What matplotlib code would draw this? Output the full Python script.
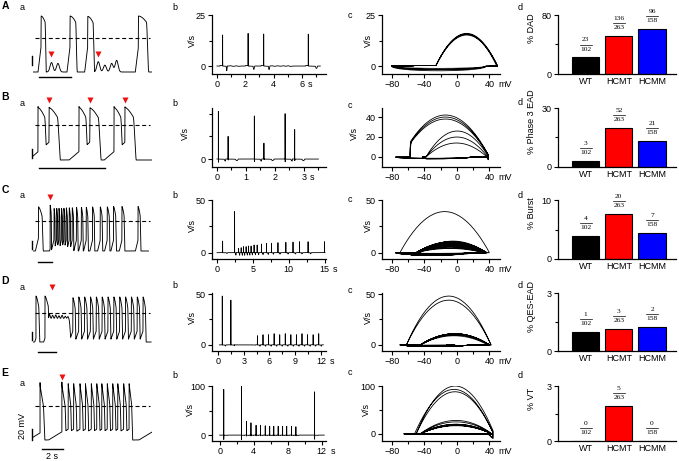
import numpy as np
import matplotlib
matplotlib.use('Agg')
import matplotlib.pyplot as plt
from matplotlib.transforms import offset_copy

plt.rcParams['font.family'] = ['Liberation Sans', 'DejaVu Sans']
FS = 6.5
W, H = 679, 461

# ---------------- bar panels (d): cells with the event / cells recorded
groups = ['WT', 'HCMT', 'HCMM']
bar_colors = ['#000000', '#ff0000', '#0000ff']
cells_total = [102, 263, 158]
dad_cells = [23, 136, 96]
ead3_cells = [3, 52, 21]
burst_cells = [4, 20, 7]
qes_cells = [1, 3, 2]
vt_cells = [0, 5, 0]

# ---------------- action potentials
# upstroke time (s), max dV/dt (V/s), peak (mV), duration (s), take-off potential (mV)
a_t = [0.4, 2.2, 3.3, 6.45]
a_dvdt = [15.2, 16.0, 15.7, 15.6]
a_peak = [50, 50, 49, 50]
a_apd = [0.25, 0.35, 0.33, 0.5]
a_foot = [-26, -26, -26, -26]
a_dad_t = [1.05, 1.45, 3.96, 4.37, 4.79, 5.1]
a_dad_mv = [22, 20, 24, 16, 20, 27]
a_mark_t = [1.05, 3.96]

b_t = [0.05, 0.385, 1.29, 1.62, 2.35, 2.68]
b_dvdt = [42, 20, 38, 14, 40, 26]
b_peak = [40, 38, 40, 37, 40, 39]
b_apd = [0.2, 0.25, 0.2, 0.25, 0.2, 0.25]
b_foot = [-68, -38, -68, -38, -68, -38]
b_mark_t = [0.385, 1.62, 2.68]

c_t = [0.78, 2.45, 3.0, 3.37, 3.7, 4.06, 4.4, 4.75, 5.17, 5.6, 6.2, 6.9, 7.6,
       8.5, 9.6, 10.6, 11.5, 12.7, 15.0]
c_dvdt = [11, 39, 4.0, 4.7, 5.7, 5.7, 6.3, 6.3, 7.3, 7.3, 8.2, 8.9, 8.9,
          9.5, 9.8, 10.0, 10.4, 10.4, 10.4]
c_peak = [36, 40, 33, 33, 33, 33, 33, 34, 34, 34, 35, 35, 35, 36, 36, 36, 37, 37, 37]
c_apd = [0.5, 0.15, 0.13, 0.13, 0.13, 0.14, 0.14, 0.15, 0.16, 0.17, 0.18, 0.2, 0.22,
         0.24, 0.26, 0.28, 0.3, 0.3, 0.3]
c_foot = [-45, -70, -50, -50, -50, -50, -50, -50, -50, -50, -50, -50, -50,
          -50, -50, -50, -50, -50, -50]
c_mark_t = [2.45]

d_t = [0.5, 1.5, 4.6, 5.25, 5.9, 6.55, 7.2, 7.85, 8.5, 9.15, 9.8, 10.45, 11.1, 11.75, 12.4]
d_dvdt = [48, 44, 9, 10, 10, 11, 10, 11, 10, 10, 11, 10, 10, 11, 10]
d_peak = [42, 42, 38, 40, 40, 40, 40, 40, 40, 40, 40, 40, 40, 40, 40]
d_apd = [0.3, 0.35, 0.25, 0.25, 0.25, 0.25, 0.25, 0.25, 0.25, 0.25, 0.25, 0.25, 0.25, 0.25, 0.25]
d_foot = [-62, -62, -45, -45, -45, -45, -45, -45, -45, -45, -45, -45, -45, -45, -45]
d_plateau = (1.8, 4.3, -14)          # start (s), end (s), level (mV)
d_osc_t = [2.0, 2.35, 2.7, 3.05, 3.4, 3.75, 4.05]
d_osc_mv = [12, 9, 10, 8, 9, 7, 6]
d_mark_t = [2.25]

e_t = [0.48, 2.56, 3.16, 3.68, 4.28, 4.8, 5.36, 5.88, 6.36, 6.88, 7.4, 7.88, 8.44, 8.96, 11.16]
e_dvdt = [93, 100, 28, 25, 20, 20, 19, 18, 18, 18, 18, 18, 18, 17, 88]
e_peak = [45, 46, 43, 43, 43, 43, 43, 43, 43, 43, 43, 43, 43, 43, 45]
e_apd = [0.3, 0.28, 0.22, 0.22, 0.22, 0.22, 0.22, 0.22, 0.22, 0.22, 0.22, 0.22, 0.22, 0.22, 0.3]
e_foot = [-52, -50, -45, -45, -45, -45, -45, -45, -45, -45, -45, -45, -45, -45, -50]
e_mark_t = [2.56]


def build_trace(t_lo, t_hi, ap_t, ap_dvdt, ap_peak, ap_apd, ap_foot, p,
                bump_t=(), bump_mv=(), plateau=None):
    taus = [(vp - vf) / (4.0 * d) / 1000.0 for vp, vf, d in zip(ap_peak, ap_foot, ap_dvdt)]
    grid = [np.arange(t_lo, t_hi, 0.002)]
    for tc, tau in zip(ap_t, taus):
        grid.append(np.arange(tc - 8 * tau - 0.002, tc + 8 * tau + 0.005, tau / 12))
    t = np.unique(np.concatenate(grid))
    t = t[(t >= t_lo) & (t <= t_hi)]

    v = np.full(t.shape, float(p['mdp']))
    if plateau is not None:
        t0, t1, lev = plateau
        edge = 1 / (1 + np.exp(-np.clip((t - t0) / 0.04, -60, 60)))
        edge = edge / (1 + np.exp(-np.clip((t1 - t) / 0.04, -60, 60)))
        v = np.maximum(v, p['mdp'] + (lev - p['mdp']) * edge)
    dmax = max(ap_dvdt)
    for tc, d, vp, apd, vf, tau in zip(ap_t, ap_dvdt, ap_peak, ap_apd, ap_foot, taus):
        z = np.clip((t - tc) / tau, -60, 60)
        up = vf + (vp - vf) / (1 + np.exp(-z))
        t_up = tc - 6 * tau
        up_start = vf + (vp - vf) / (1 + np.exp(6.0))
        up = np.where(t < t_up, up_start - p['slope'] * (t_up - t), up)
        x = np.clip((t - tc) / apd, 0, None)
        u = np.clip((x - 1) / p['rep'], 0, 1)
        plat = vp - p['drop'] * np.clip(x, 0, 1) ** p['expo']
        down = plat - (vp - p['drop'] - p['mdp']) * u * u * (3 - 2 * u)
        tn = np.clip(t - tc - 4 * tau, 0, None)
        down = down - p['notch'] * d / dmax * (1 - np.exp(-tn / 0.0006))
        v = np.maximum(v, np.minimum(up, down))
    for bt, bm in zip(bump_t, bump_mv):
        v = v + bm * np.exp(-0.5 * ((t - bt) / p['sig']) ** 2)
    dv = np.gradient(v, t) / 1000.0
    return t, v, dv


rows = [
    dict(name='A', ap=(a_t, a_dvdt, a_peak, a_apd, a_foot), bumps=(a_dad_t, a_dad_mv), plateau=None,
         marks=a_mark_t, p=dict(mdp=-80, slope=300, drop=14, expo=1.8, rep=0.3, notch=0, sig=0.09),
         t_range=(-0.1, 7.3), a_xlim=(-0.1, 7.3), b_end=7.3, v_top=50, y_peak=16, y_base=72,
         mark_y=54, vbar=65, hbar=(39, 77), box=(15, 74),
         b_xlim=(-0.35, 7.7), b_xt=[0, 2, 4, 6], b_xm=[1, 3, 5, 7],
         b_ylim=(-3.9, 25), b_yt=[0, 25], b_ym=[12.5],
         c_ylim=(-3.9, 25), c_yt=[0, 25], c_ym=[12.5],
         cells=dad_cells, d_top=80, d_label='% DAD', lab_x=(197, 373),
         letters=(6, 8, 8, 15, 8)),
    dict(name='B', ap=(b_t, b_dvdt, b_peak, b_apd, b_foot), bumps=((), ()), plateau=None,
         marks=b_mark_t, p=dict(mdp=-75, slope=60, drop=20, expo=1.5, rep=0.4, notch=3, sig=0.08),
         t_range=(-0.1, 3.5), a_xlim=(-0.1, 3.5), b_end=3.5, v_top=40, y_peak=106, y_base=160,
         mark_y=100, vbar=158, hbar=(39, 168), box=(108, 167),
         b_xlim=(-0.17, 3.76), b_xt=[0, 1, 2, 3], b_xm=[0.5, 1.5, 2.5, 3.5],
         b_ylim=(-7, 45), b_yt=[0], b_ym=[20, 40],
         c_ylim=(-10, 49), c_yt=[0, 20, 40], c_ym=[],
         cells=ead3_cells, d_top=30, d_label='% Phase 3 EAD', lab_x=(190, 359),
         letters=(97, 104, 103, 105, 102)),
    dict(name='C', ap=(c_t, c_dvdt, c_peak, c_apd, c_foot), bumps=((), ()), plateau=None,
         marks=c_mark_t, p=dict(mdp=-75, slope=70, drop=22, expo=1.5, rep=0.4, notch=0, sig=0.08),
         t_range=(0.0, 16.5), a_xlim=(0.0, 17.0), b_end=15.06, v_top=38, y_peak=206, y_base=251,
         mark_y=197, vbar=249, hbar=(38, 262), box=(200, 259),
         b_xlim=(-0.7, 15.2), b_xt=[0, 5, 10, 15], b_xm=[2.5, 7.5, 12.5],
         b_ylim=(-6, 50), b_yt=[0, 50], b_ym=[25],
         c_ylim=(-6, 50), c_yt=[0, 50], c_ym=[25],
         cells=burst_cells, d_top=10, d_label='% Burst', lab_x=(197, 373),
         letters=(190, 196, 195, 199, 195)),
    dict(name='D', ap=(d_t, d_dvdt, d_peak, d_apd, d_foot), bumps=(d_osc_t, d_osc_mv), plateau=d_plateau,
         marks=d_mark_t, p=dict(mdp=-70, slope=60, drop=25, expo=1.5, rep=0.4, notch=0, sig=0.08),
         t_range=(0.17, 13.3), a_xlim=(0.17, 13.4), b_end=12.3, v_top=42, y_peak=296, y_base=342,
         mark_y=287, vbar=340, hbar=(38, 352), box=(293, 351),
         b_xlim=(-0.7, 12.6), b_xt=[0, 3, 6, 9, 12], b_xm=[1.5, 4.5, 7.5, 10.5],
         b_ylim=(-6, 51), b_yt=[0, 50], b_ym=[25],
         c_ylim=(-6, 51), c_yt=[0, 50], c_ym=[25],
         cells=qes_cells, d_top=3, d_label='% QES-EAD', lab_x=(197, 373),
         letters=(281, 287, 286, 290, 285)),
    dict(name='E', ap=(e_t, e_dvdt, e_peak, e_apd, e_foot), bumps=((), ()), plateau=None,
         marks=e_mark_t, p=dict(mdp=-65, slope=12, drop=35, expo=1.0, rep=0.6, notch=7, sig=0.08),
         t_range=(-0.19, 12.3), a_xlim=(-0.19, 11.14), b_end=12.3, v_top=45, y_peak=382, y_base=440,
         mark_y=377, vbar=440, hbar=(42, 449), box=(386, 441),
         b_xlim=(-0.9, 12.5), b_xt=[0, 4, 8, 12], b_xm=[2, 6, 10],
         b_ylim=(-12, 100), b_yt=[0, 100], b_ym=[50],
         c_ylim=(-15, 100), c_yt=[0, 100], c_ym=[50],
         cells=vt_cells, d_top=3, d_label='% VT', lab_x=(195, 371),
         letters=(373, 383, 375, 372, 375)),
]

fig = plt.figure(figsize=(W / 100, H / 100), dpi=100)


def px_axes(x0, y0, x1, y1):
    return fig.add_axes([x0 / W, 1 - y1 / H, (x1 - x0) / W, (y1 - y0) / H])


def ftext(px, py, s, **kw):
    fig.text(px / W, 1 - py / H, s, **kw)


def style(ax):
    for s in ('top', 'right'):
        ax.spines[s].set_visible(False)
    for s in ('left', 'bottom'):
        ax.spines[s].set_linewidth(0.9)
    ax.tick_params(which='both', direction='out', width=0.8, labelsize=FS, pad=1.5)
    ax.tick_params(which='major', length=3)
    ax.tick_params(which='minor', length=2.2)


def unit_label(ax, last, unit):
    lab = str(last)
    dx = len(lab) * 0.556 * FS / 2 + 0.4 * FS
    ax.annotate(unit, xy=(last, 0), xycoords=ax.get_xaxis_transform(),
                xytext=(dx, -4.5), textcoords='offset points', ha='left', va='top', fontsize=FS)


AX0, AX1 = 33, 152
for row in rows:
    t, v, dv = build_trace(row['t_range'][0], row['t_range'][1], *row['ap'], row['p'],
                           bump_t=row['bumps'][0], bump_mv=row['bumps'][1], plateau=row['plateau'])
    mdp, vtop = row['p']['mdp'], row['v_top']
    yp, yb = row['y_peak'], row['y_base']
    k = (yb - yp) / (vtop - mdp)
    xl0, xl1 = row['a_xlim']

    def to_t(px):
        return xl0 + (px - AX0) / (AX1 - AX0) * (xl1 - xl0)

    def to_v(py):
        return vtop - (py - yp) / k

    # ---- a: membrane potential
    ax = px_axes(AX0, yp - 8, AX1, yb + 14)
    ax.set_xlim(xl0, xl1)
    ax.set_ylim(mdp - 14 / k, vtop + 8 / k)
    ax.axis('off')
    ax.plot(t, v, color='k', lw=0.65)
    ax.axhline(0, xmin=2 / 119, xmax=117 / 119, color='k', lw=0.8, ls=(0, (3.6, 2.4)))
    mt = row['marks']
    ax.plot(mt, [to_v(row['mark_y'])] * len(mt), 'v', color='#ee1111', ms=4.2, mec='none', clip_on=False)
    xv = to_t(32)
    ax.plot([xv, xv], [to_v(row['vbar']), to_v(row['vbar']) + 20], color='k', lw=1.0, clip_on=False)
    hx = to_t(row['hbar'][0])
    ax.plot([hx, hx + 2], [to_v(row['hbar'][1])] * 2, color='k', lw=1.0, clip_on=False)

    top, bot = row['box']
    m = (t >= 0) & (t <= row['b_end'])

    # ---- b: dV/dt against time
    ax = px_axes(212, top, 326, bot)
    style(ax)
    ax.plot(t[m], dv[m], color='k', lw=0.6)
    ax.set_xlim(row['b_xlim'])
    ax.set_ylim(row['b_ylim'])
    ax.set_xticks(row['b_xt'])
    ax.set_xticks(row['b_xm'], minor=True)
    ax.set_yticks(row['b_yt'])
    ax.set_yticks(row['b_ym'], minor=True)
    unit_label(ax, row['b_xt'][-1], 's')
    ax.set_ylabel('V/s', fontsize=FS)
    ax.yaxis.set_label_coords((row['lab_x'][0] - 212) / 114, 0.57)

    # ---- c: phase plot
    ax = px_axes(382, top, 500, bot)
    style(ax)
    ax.plot(v[m], dv[m], color='k', lw=0.6)
    ax.set_xlim(-92, 53)
    ax.set_ylim(row['c_ylim'])
    ax.set_xticks([-80, -40, 0, 40])
    ax.set_xticks([-60, -20, 20], minor=True)
    ax.set_yticks(row['c_yt'])
    ax.set_yticks(row['c_ym'], minor=True)
    unit_label(ax, 40, 'mV')
    ax.set_ylabel('V/s', fontsize=FS)
    ax.yaxis.set_label_coords((row['lab_x'][1] - 382) / 118, 0.57)

    # ---- d: incidence bars
    ax = px_axes(558, top, 676, bot)
    style(ax)
    vals = [100.0 * n / N for n, N in zip(row['cells'], cells_total)]
    xs = np.arange(len(groups))
    ax.bar(xs, vals, width=0.82, color=bar_colors, edgecolor='k', linewidth=0.8)
    ax.set_xlim(-0.83, 2.72)
    ax.set_ylim(0, row['d_top'])
    ax.set_yticks([0, row['d_top']])
    ax.set_yticks([row['d_top'] / 2], minor=True)
    ax.set_xticks(xs)
    ax.set_xticklabels(groups)
    ax.tick_params(axis='x', length=0, pad=2.5)
    ax.set_ylabel(row['d_label'], fontsize=FS)
    ax.yaxis.set_label_coords(-0.186, 0.77)
    line_tr = offset_copy(ax.transData, fig=fig, x=0, y=9.2, units='points')
    for xi, val, n, N in zip(xs, vals, row['cells'], cells_total):
        ax.annotate(str(N), xy=(xi, val), xytext=(0, 6.0), textcoords='offset points',
                    ha='center', va='center', family='Liberation Serif', fontsize=5.4)
        ax.annotate(str(n), xy=(xi, val), xytext=(0, 12.6), textcoords='offset points',
                    ha='center', va='center', family='Liberation Serif', fontsize=5.4)
        ax.plot([xi - 0.18, xi + 0.18], [val, val], transform=line_tr, color='k', lw=0.5, clip_on=False)

    # ---- panel letters
    ly = row['letters']
    ftext(5, ly[0], row['name'], fontsize=7.5, fontweight='bold', ha='center', va='center')
    ftext(22, ly[1], 'a', fontsize=FS, ha='center', va='center')
    ftext(175, ly[2], 'b', fontsize=FS, ha='center', va='center')
    ftext(350, ly[3], 'c', fontsize=FS, ha='center', va='center')
    ftext(520, ly[4], 'd', fontsize=FS, ha='center', va='center')

# scale-bar labels of row E
ftext(22, 426, '20 mV', fontsize=FS, rotation=90, ha='center', va='center')
ftext(52, 456, '2 s', fontsize=FS, ha='center', va='center')

fig.savefig('out.png', dpi=100)
